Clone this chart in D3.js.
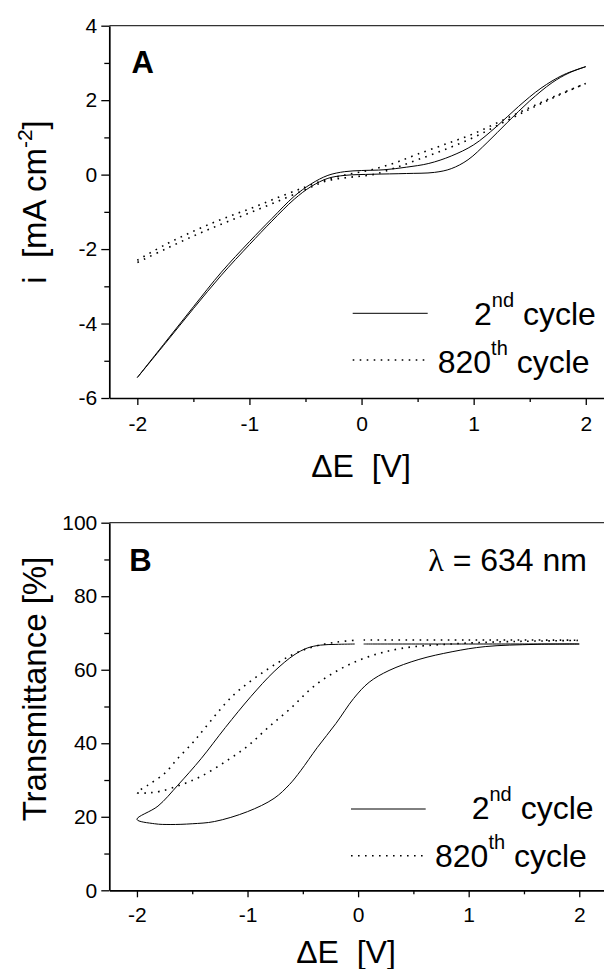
<!DOCTYPE html>
<html><head><meta charset="utf-8">
<script src="https://cdn.jsdelivr.net/npm/d3@7"></script>
<style>
body{margin:0;background:#fff}
svg text{font-family:"Liberation Sans",Arial,Helvetica,sans-serif;fill:#000;white-space:pre}
</style>
</head><body>
<svg id="chart" width="604" height="969"></svg>
<script>
// ---------- data ----------
const xTicks = [-2, -1, 0, 1, 2];
const xMinor = [-1.5, -0.5, 0.5, 1.5];
const yTicksA = [-6, -4, -2, 0, 2, 4];
const yMinorA = [-5, -3, -1, 1, 3];
const yTicksB = [0, 20, 40, 60, 80, 100];
const yMinorB = [10, 30, 50, 70, 90];
const legendLabels = [["2", "nd", " cycle"], ["820", "th", " cycle"]];

// Panel A – 2nd cycle (solid), E [V] / i [mA cm-2]
const a2UpE = [-2.00,-1.75,-1.50,-1.25,-1.00,-0.80,-0.60,-0.45,-0.30,-0.15,0.00,0.20,0.40,0.60,0.80,1.00,1.20,1.40,1.60,1.80,2.00];
const a2UpI = [-5.45,-4.50,-3.55,-2.62,-1.80,-1.18,-0.58,-0.25,-0.02,0.08,0.11,0.13,0.20,0.30,0.50,0.80,1.28,1.83,2.32,2.68,2.90];
const a2DnE = [2.00,1.85,1.70,1.50,1.30,1.12,0.95,0.80,0.65,0.40,0.10,-0.15,-0.30,-0.45,-0.60,-0.80,-1.00,-1.25,-1.50,-1.75,-2.00];
const a2DnI = [2.90,2.73,2.47,1.98,1.40,0.86,0.40,0.16,0.06,0.03,0.01,-0.02,-0.10,-0.32,-0.66,-1.25,-1.88,-2.70,-3.60,-4.53,-5.45];
// Panel A – 820th cycle (dotted)
const a820UpE = [-2.00,-1.75,-1.50,-1.25,-1.00,-0.75,-0.50,-0.30,-0.10,0.10,0.30,0.50,0.75,1.00,1.25,1.50,1.75,2.00];
const a820UpI = [-2.30,-1.88,-1.52,-1.20,-0.92,-0.62,-0.33,-0.12,0.02,0.14,0.32,0.55,0.82,1.10,1.45,1.80,2.14,2.45];
const a820DnE = [2.00,1.75,1.50,1.25,1.00,0.75,0.50,0.30,0.10,-0.10,-0.30,-0.50,-0.75,-1.00,-1.25,-1.50,-1.75,-2.00];
const a820DnI = [2.45,2.12,1.76,1.38,1.00,0.68,0.40,0.18,0.00,-0.07,-0.16,-0.40,-0.72,-1.03,-1.33,-1.65,-2.00,-2.36];

// Panel B – 2nd cycle (solid), E [V] / T [%]
const b2E = [0.05,1.00,2.00,1.60,1.15,0.85,0.55,0.28,0.10,-0.04,-0.20,-0.37,-0.52,-0.62,-0.76,-1.00,-1.30,-1.50,-1.70,-1.84,-2.00,
             -1.81,-1.63,-1.42,-1.20,-0.97,-0.76,-0.58,-0.46,-0.34,-0.20,-0.03];
const b2T = [67.0,67.0,67.0,66.9,66.3,64.9,62.8,59.8,56.6,52.2,45.4,38.8,32.5,28.8,25.0,21.4,18.7,18.1,17.9,18.1,19.3,
             22.9,28.6,35.8,44.3,52.7,59.5,64.0,65.9,66.7,66.9,67.0];
// Panel B – 820th cycle (dotted)
const b820E = [0.05,1.00,2.00,1.60,1.29,0.84,0.39,0.09,-0.16,-0.40,-0.61,-0.82,-1.00,-1.20,-1.42,-1.60,-1.78,-1.90,-2.00,
               -1.90,-1.75,-1.63,-1.50,-1.40,-1.13,-0.85,-0.60,-0.40,-0.20,0.00];
const b820T = [68.1,68.1,68.0,67.8,67.6,67.0,65.8,63.5,60.2,55.5,49.5,44.1,39.2,35.0,31.0,28.7,27.0,26.5,26.6,
               28.6,31.8,35.9,40.0,43.6,53.0,59.5,64.0,66.3,67.5,68.1];

// ---------- drawing ----------
const svg = d3.select("#chart");
const W = 604;
const zip = (a, b) => a.map((v, i) => [v, b[i]]);

function panel(cfg) {
  const g = svg.append("g");
  const x = d3.scaleLinear().domain([-2.25, 2.25]).range(cfg.xRange);
  const y = d3.scaleLinear().domain(cfg.yDomain).range(cfg.yRange);
  const [y0, y1] = cfg.yRange; // bottom, top
  const xl = cfg.xRange[0];

  // top / right frame lines
  g.append("line").attr("x1", xl).attr("x2", W + 20).attr("y1", y1).attr("y2", y1)
    .attr("stroke", "#333").attr("stroke-width", 1.2);
  g.append("line").attr("x1", cfg.xRange[1]).attr("x2", cfg.xRange[1]).attr("y1", y1).attr("y2", y0)
    .attr("stroke", "#333").attr("stroke-width", 1.2);

  // x axis
  const fmt = d => String(d);
  g.append("g").attr("transform", `translate(0,${y0})`)
    .call(d3.axisBottom(x).tickValues(xTicks).tickSize(7).tickSizeOuter(0).tickPadding(cfg.xPad).tickFormat(fmt));
  g.append("g").attr("transform", `translate(0,${y0})`)
    .call(d3.axisBottom(x).tickValues(xMinor).tickSize(4).tickSizeOuter(0).tickFormat(""))
    .select(".domain").remove();
  // y axis
  g.append("g").attr("transform", `translate(${xl},0)`)
    .call(d3.axisLeft(y).tickValues(cfg.yTicks).tickSize(8).tickSizeOuter(0).tickPadding(4).tickFormat(fmt));
  g.append("g").attr("transform", `translate(${xl},0)`)
    .call(d3.axisLeft(y).tickValues(cfg.yMinor).tickSize(5).tickSizeOuter(0).tickFormat(""))
    .select(".domain").remove();

  g.selectAll(".domain").attr("stroke", "#000").attr("stroke-width", 1.7);
  g.selectAll(".tick line").attr("stroke", "#000").attr("stroke-width", 1.3);
  g.selectAll(".tick text").attr("font-size", 21)
    .style("font-family", "'Liberation Sans', Arial, sans-serif").attr("fill", "#000");

  const line = d3.line().x(d => x(d[0])).y(d => y(d[1])).curve(d3.curveCatmullRom.alpha(0.5));
  cfg.solid.forEach(pts => g.append("path").attr("d", line(pts)).attr("fill", "none")
    .attr("stroke", "#000").attr("stroke-width", 1));
  cfg.dotted.forEach(pts => g.append("path").attr("d", line(pts)).attr("fill", "none")
    .attr("stroke", "#000").attr("stroke-width", 1.6).attr("stroke-dasharray", "1.6 5.4"));

  // panel letter
  g.append("text").attr("x", cfg.letterPos[0]).attr("y", cfg.letterPos[1])
    .attr("font-size", 31).attr("font-weight", "bold").text(cfg.letter);

  // x title
  g.append("text").attr("x", cfg.xTitle[0]).attr("y", cfg.xTitle[1]).attr("text-anchor", "middle")
    .attr("font-size", 32).text("\u0394E  [V]");

  // y title
  const yt = g.append("text").attr("transform", `translate(${cfg.yTitle[0]},${cfg.yTitle[1]}) rotate(-90)`)
    .attr("text-anchor", "middle").attr("font-size", 33);
  cfg.yTitleParts.forEach(p => {
    const t = yt.append("tspan").text(p.t);
    if (p.sup) t.attr("font-size", 21).attr("dy", -14);
    if (p.back) t.attr("dy", 14);
  });

  // legend
  cfg.legend.forEach((L, i) => {
    g.append("line").attr("x1", L.x1).attr("x2", L.x2).attr("y1", L.ly).attr("y2", L.ly)
      .attr("stroke", "#000").attr("stroke-width", i === 0 ? 1 : 1.5)
      .attr("stroke-dasharray", i === 0 ? null : "1.6 5.4");
    const t = g.append("text").attr("x", L.tx).attr("y", L.ty).attr("font-size", 32);
    const parts = legendLabels[i];
    t.append("tspan").text(parts[0]);
    t.append("tspan").attr("font-size", 20).attr("dy", -18).text(parts[1]);
    t.append("tspan").attr("dy", 18).text(parts[2]);
  });
  return g;
}

panel({
  xRange: [109.3, 613.8], yDomain: [-6, 4], yRange: [398, 25.7],
  yTicks: yTicksA, yMinor: yMinorA, xPad: 11,
  solid: [zip(a2UpE, a2UpI), zip(a2DnE, a2DnI)],
  dotted: [zip(a820UpE, a820UpI), zip(a820DnE, a820DnI)],
  letter: "A", letterPos: [131.5, 73.3],
  xTitle: [361, 476.5], yTitle: [46, 202],
  yTitleParts: [{t: "i  [mA cm"}, {t: "-2", sup: true}, {t: "]", back: true}],
  legend: [
    {x1: 352.7, x2: 427.7, ly: 313.3, tx: 474, ty: 325},
    {x1: 352.7, x2: 427.7, ly: 360, tx: 437.7, ty: 372.7}
  ]
});

const gB = panel({
  xRange: [109.3, 606.9], yDomain: [0, 100], yRange: [890.3, 522.7],
  yTicks: yTicksB, yMinor: yMinorB, xPad: 9.5,
  solid: [zip(b2E, b2T)],
  dotted: [zip(b820E, b820T)],
  letter: "B", letterPos: [129.3, 570.7],
  xTitle: [346, 963], yTitle: [46, 689],
  yTitleParts: [{t: "Transmittance [%]"}],
  legend: [
    {x1: 351, x2: 425.7, ly: 809, tx: 471.7, ty: 819.3},
    {x1: 351, x2: 425.7, ly: 855.7, tx: 435, ty: 866.7}
  ]
});

// wavelength annotation
const lam = gB.append("text").attr("x", 587).attr("y", 571).attr("text-anchor", "end").attr("font-size", 32);
lam.append("tspan").style("font-family", "'Liberation Serif', 'DejaVu Serif', serif").text("\u03BB");
lam.append("tspan").text(" = 634 nm");
</script>
</body></html>
